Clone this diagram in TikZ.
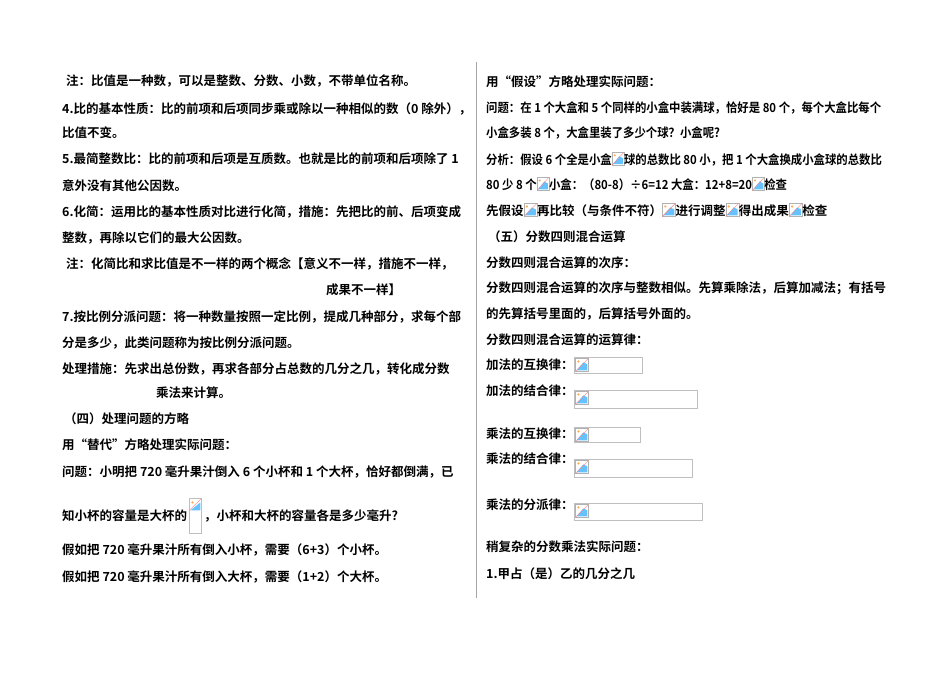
\documentclass[tikz,border=0pt]{standalone}
\usepackage{fontspec}
\usepackage{graphicx}
\setmainfont{Noto Sans CJK SC}[BoldFont={Noto Sans CJK SC Bold}]
\newcommand\ico{\tikz[baseline=-3pt,x=1pt,y=1pt]{\fill[white](0,-4)rectangle(13,9);\draw[gray!60](0,-4)rectangle(13,9);\fill[blue!40!cyan!60](1,-3)--(12,-3)--(12,3)--(8,5)--cycle;\draw[red!50](0,-4)--(13,9);\fill[orange!70](3,6)circle(1.2);}}
\newcommand\nrw[1]{\scalebox{0.91}[1]{#1}}
\tikzset{tx/.style={anchor=west,inner sep=0pt,font=\fontsize{12.5}{14}\selectfont\bfseries},
 bx/.style={draw=gray!50,fill=white,line width=0.6pt}}
\newcommand\bicon[4]{\draw[bx](#1,#2)rectangle(#3,#4);\node[anchor=north west,inner sep=1pt] at (#1,#2) {\ico};}
\begin{document}
\begin{tikzpicture}[x=1pt,y=-1pt]
\useasboundingbox[fill=white](0,0)rectangle(950,672);
\draw[gray!70,line width=0.6pt](476,62)--(476,598);
\node[tx] (l1) at (66,81) {注：比值是一种数，可以是整数、分数、小数，不带单位名称。};
\node[tx] (l2) at (62,109) {4.比的基本性质：比的前项和后项同步乘或除以一种相似的数（0 除外），};
\node[tx] (l3) at (62,133) {比值不变。};
\node[tx] (l4) at (62,159) {5.最简整数比：比的前项和后项是互质数。也就是比的前项和后项除了 1};
\node[tx] (l5) at (62,186) {意外没有其他公因数。};
\node[tx] (l6) at (62,212) {6.化简：运用比的基本性质对比进行化简，措施：先把比的前、后项变成};
\node[tx] (l7) at (62,238) {整数，再除以它们的最大公因数。};
\node[tx] (l8) at (66,264) {注：化简比和求比值是不一样的两个概念【意义不一样，措施不一样，};
\node[tx] (l9) at (326,290) {成果不一样】};
\node[tx] (l10) at (62,317) {7.按比例分派问题：将一种数量按照一定比例，提成几种部分，求每个部};
\node[tx] (l11) at (62,343) {分是多少，此类问题称为按比例分派问题。};
\node[tx] (l12) at (62,369) {处理措施：先求出总份数，再求各部分占总数的几分之几，转化成分数};
\node[tx] (l13) at (156,393) {乘法来计算。};
\node[tx] (l14) at (64,419) {（四）处理问题的方略};
\node[tx] (l15) at (62,445) {用“替代”方略处理实际问题：};
\node[tx] (l16) at (62,472) {问题：小明把 720 毫升果汁倒入 6 个小杯和 1 个大杯，恰好都倒满，已};
\node[tx] (l17) at (62,516) {知小杯的容量是大杯的};
\draw[bx](189,498)rectangle(201,533);
\node[anchor=north west,inner sep=0pt] (ic) at (189,498) {\tikz[x=1pt,y=1pt]{\fill[blue!40!cyan!60](1,0)--(11,0)--(11,8)--cycle;\draw[red!50](0,0)--(12,12);\fill[orange!70](3,8)circle(1.2);}};
\node[tx] (l17b) at (204,516) {，小杯和大杯的容量各是多少毫升?};
\node[tx] (l18) at (62,550) {假如把 720 毫升果汁所有倒入小杯，需要（6+3）个小杯。};
\node[tx] (l19) at (62,577) {假如把 720 毫升果汁所有倒入大杯，需要（1+2）个大杯。};
\node[tx] (r1) at (486,82) {用“假设”方略处理实际问题：};
\node[tx] (r2) at (486,108) {\nrw{问题：在 1 个大盒和 5 个同样的小盒中装满球，恰好是 80 个，每个大盒比每个}};
\node[tx] (r3) at (486,133) {\nrw{小盒多装 8 个，大盒里装了多少个球？小盒呢?}};
\node[tx] (r4) at (486,159) {\nrw{分析：假设 6 个全是小盒\ico 球的总数比 80 小，把 1 个大盒换成小盒球的总数比}};
\node[tx] (r5) at (486,184) {\nrw{80 少 8 个\ico 小盒：（80-8）÷6=12 大盒：12+8=20\ico 检查}};
\node[tx] (r6) at (486,210) {先假设\ico 再比较（与条件不符）\ico 进行调整\ico 得出成果\ico 检查};
\node[tx] (r7) at (488,237) {（五）分数四则混合运算};
\node[tx] (r8) at (486,263) {分数四则混合运算的次序：};
\node[tx] (r9) at (486,288) {分数四则混合运算的次序与整数相似。先算乘除法，后算加减法；有括号};
\node[tx] (r10) at (486,314) {的先算括号里面的，后算括号外面的。};
\node[tx] (r11) at (486,340) {分数四则混合运算的运算律：};
\node[tx] (r12) at (486,365) {加法的互换律：};
\bicon{574}{357}{642}{373}
\node[tx] (r13) at (486,391) {加法的结合律：};
\bicon{574}{390}{697}{408}
\node[tx] (r14) at (486,434) {乘法的互换律：};
\bicon{574}{427}{640}{442}
\node[tx] (r15) at (486,459) {乘法的结合律：};
\bicon{574}{459}{692}{477}
\node[tx] (r16) at (486,505) {乘法的分派律：};
\bicon{574}{503}{702}{520}
\node[tx] (r17) at (486,547) {稍复杂的分数乘法实际问题：};
\node[tx] (r18) at (486,574) {1.甲占（是）乙的几分之几};
\end{tikzpicture}
\end{document}
